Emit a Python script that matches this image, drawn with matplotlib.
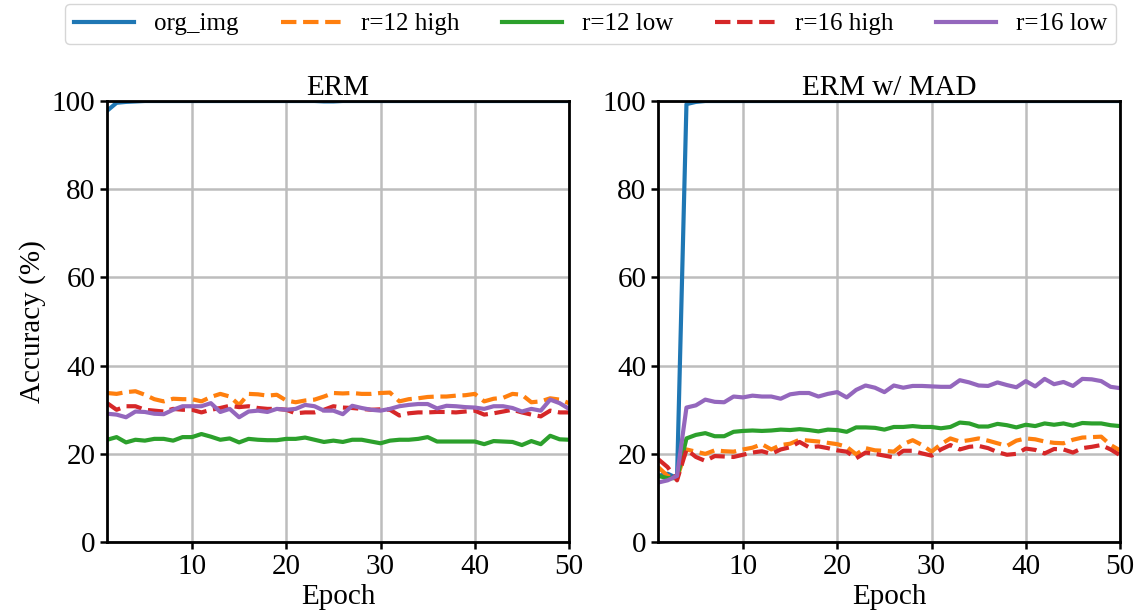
import matplotlib
matplotlib.use("Agg")
import matplotlib.pyplot as plt
import numpy as np

plt.rcParams['font.family'] = ['Liberation Serif', 'DejaVu Serif']
plt.rcParams['mathtext.fontset'] = 'stix'

epochs = np.arange(1, 51)

# ---- ERM ----
erm_org = [97.8, 99.6, 99.8, 99.9, 100, 100, 100, 100, 100, 100,
           100, 100, 100, 100, 100, 100, 100, 100, 100, 100,
           100, 100, 100, 99.9, 99.9, 100, 100, 100, 100, 100,
           100, 100, 100, 100, 100, 100, 100, 100, 100, 100,
           100, 100, 100, 100, 100, 100, 100, 100, 100, 100]
erm_r12_high = [33.8, 33.6, 34.0, 34.2, 33.4, 32.4, 31.9, 32.5, 32.4, 32.4,
                31.9, 32.9, 33.6, 33.0, 31.1, 33.6, 33.5, 33.2, 33.4, 32.1,
                31.7, 32.1, 32.3, 33.0, 33.8, 33.7, 33.8, 33.6, 33.6, 33.8,
                33.9, 31.9, 32.4, 32.6, 32.9, 33.0, 33.0, 33.2, 33.3, 33.6,
                31.9, 32.5, 32.7, 33.6, 33.4, 31.7, 31.9, 32.6, 32.3, 31.5]
erm_r12_low = [23.2, 23.8, 22.6, 23.2, 23.0, 23.4, 23.4, 23.0, 23.8, 23.8,
               24.5, 23.9, 23.2, 23.5, 22.6, 23.4, 23.2, 23.1, 23.1, 23.4,
               23.4, 23.7, 23.2, 22.7, 23.0, 22.7, 23.2, 23.2, 22.8, 22.4,
               23.0, 23.2, 23.2, 23.4, 23.8, 22.8, 22.8, 22.8, 22.8, 22.8,
               22.2, 22.9, 22.8, 22.7, 22.0, 22.9, 22.2, 24.1, 23.3, 23.2]
erm_r16_high = [31.5, 30.0, 30.8, 30.8, 30.0, 29.8, 29.6, 30.2, 30.0, 30.0,
                29.4, 30.0, 30.4, 30.9, 30.6, 30.8, 30.4, 30.2, 30.2, 30.0,
                29.2, 29.4, 29.4, 30.0, 30.8, 30.5, 30.4, 30.2, 30.0, 30.1,
                30.0, 28.7, 29.2, 29.4, 29.4, 29.5, 29.5, 29.4, 29.6, 29.8,
                28.9, 29.2, 29.6, 30.0, 29.4, 28.9, 28.5, 29.8, 29.4, 29.4]
erm_r16_low = [29.1, 28.9, 28.3, 29.6, 29.5, 29.1, 29.0, 30.0, 30.8, 30.8,
               30.8, 31.5, 29.5, 30.2, 28.3, 29.6, 29.8, 29.5, 30.2, 30.0,
               30.2, 31.1, 30.8, 29.8, 29.8, 29.0, 30.9, 30.4, 30.0, 29.8,
               30.2, 30.8, 31.1, 31.3, 31.3, 30.3, 30.9, 30.8, 30.6, 30.5,
               30.2, 30.8, 30.8, 30.4, 29.6, 30.2, 29.8, 32.3, 31.5, 30.2]

# ---- ERM w/ MAD ----
mad_org = [15.0, 15.5, 14.5, 99.3, 99.8, 100, 100, 100, 100, 100,
           100, 100, 100, 100, 100, 100, 100, 100, 100, 100,
           100, 100, 100, 100, 100, 100, 100, 100, 100, 100,
           100, 100, 100, 100, 100, 100, 100, 100, 100, 100,
           100, 100, 100, 100, 100, 100, 100, 100, 100, 100]
mad_r12_high = [17.0, 15.0, 14.5, 21.0, 20.5, 20.0, 20.8, 20.6, 20.5, 21.0,
                21.4, 22.2, 21.0, 22.0, 22.3, 23.2, 23.0, 22.8, 22.5, 22.2,
                21.6, 19.9, 21.3, 20.8, 20.7, 20.5, 22.2, 23.1, 22.0, 20.5,
                22.2, 23.5, 22.8, 23.1, 23.5, 23.0, 22.4, 21.8, 23.0, 23.5,
                23.3, 22.8, 22.5, 22.4, 23.2, 23.7, 23.8, 23.9, 22.0, 20.8]
mad_r12_low = [15.0, 14.5, 14.5, 23.5, 24.3, 24.7, 24.0, 24.0, 25.0, 25.2,
               25.3, 25.2, 25.3, 25.5, 25.4, 25.6, 25.4, 25.1, 25.5, 25.4,
               25.0, 26.0, 26.0, 25.9, 25.5, 26.1, 26.1, 26.3, 26.1, 26.1,
               25.8, 26.1, 27.1, 26.9, 26.2, 26.2, 26.8, 26.5, 26.0, 26.6,
               26.3, 26.9, 26.6, 26.9, 26.4, 27.0, 26.9, 26.9, 26.5, 26.3]
mad_r16_high = [18.8, 17.0, 14.0, 21.0, 19.3, 18.4, 19.5, 19.4, 19.3, 19.8,
                20.3, 20.6, 20.0, 21.0, 21.5, 22.7, 21.5, 21.7, 21.3, 20.8,
                20.5, 19.0, 20.3, 20.0, 19.6, 19.2, 20.7, 20.7, 20.1, 19.6,
                21.0, 22.0, 21.0, 21.6, 21.8, 21.3, 20.4, 19.8, 20.0, 21.2,
                20.9, 20.1, 21.1, 21.0, 20.3, 21.3, 21.6, 22.0, 21.0, 19.7]
mad_r16_low = [13.5, 14.0, 15.0, 30.5, 31.0, 32.3, 31.8, 31.7, 33.0, 32.8,
               33.2, 33.0, 33.0, 32.5, 33.5, 33.8, 33.8, 33.0, 33.6, 34.0,
               32.8, 34.5, 35.5, 35.0, 34.0, 35.5, 35.0, 35.4, 35.4, 35.3,
               35.2, 35.2, 36.7, 36.2, 35.5, 35.4, 36.2, 35.6, 35.1, 36.5,
               35.3, 37.0, 35.8, 36.3, 35.4, 37.0, 36.9, 36.5, 35.2, 34.9]

labels = ['org_img', 'r=12 high', 'r=12 low', 'r=16 high', 'r=16 low']
colors = ['#1f77b4', '#ff7f0e', '#2ca02c', '#d62728', '#9467bd']
styles = ['-', '--', '-', '--', '-']

panels = [
    ("ERM", [erm_org, erm_r12_high, erm_r12_low, erm_r16_high, erm_r16_low]),
    ("ERM w/ MAD", [mad_org, mad_r12_high, mad_r12_low, mad_r16_high, mad_r16_low]),
]

fig, axes = plt.subplots(1, 2, figsize=(11.4, 6.16), dpi=100)
fig.subplots_adjust(left=0.094, right=0.9825, top=0.836, bottom=0.12, wspace=0.193)

for ax, (title, series) in zip(axes, panels):
    for ys, lab, c, ls in zip(series, labels, colors, styles):
        ax.plot(epochs, ys, color=c, linestyle=ls, linewidth=3.0, label=lab)
    ax.set_xlim(1, 50)
    ax.set_ylim(0, 100)
    ax.set_xticks([10, 20, 30, 40, 50])
    ax.set_yticks([0, 20, 40, 60, 80, 100])
    ax.grid(True, color='#bdbdbd', linewidth=1.8)
    ax.set_axisbelow(True)
    for sp in ax.spines.values():
        sp.set_linewidth(2.0)
        sp.set_color('black')
    ax.tick_params(labelsize=21, width=1.8, length=5)
    ax.set_title(title, fontsize=21, pad=4)
    ax.set_xlabel("Epoch", fontsize=21, labelpad=3)

axes[0].set_ylabel("Accuracy (%)", fontsize=21)

handles, labs = axes[0].get_legend_handles_labels()
fig.legend(handles, labs, loc='center', bbox_to_anchor=(0.518, 0.961), ncol=5,
           fontsize=18, handlelength=2.4, columnspacing=1.7, frameon=True,
           fancybox=True, edgecolor='#cccccc', borderpad=0.35)

fig.savefig("out.png", dpi=100)
